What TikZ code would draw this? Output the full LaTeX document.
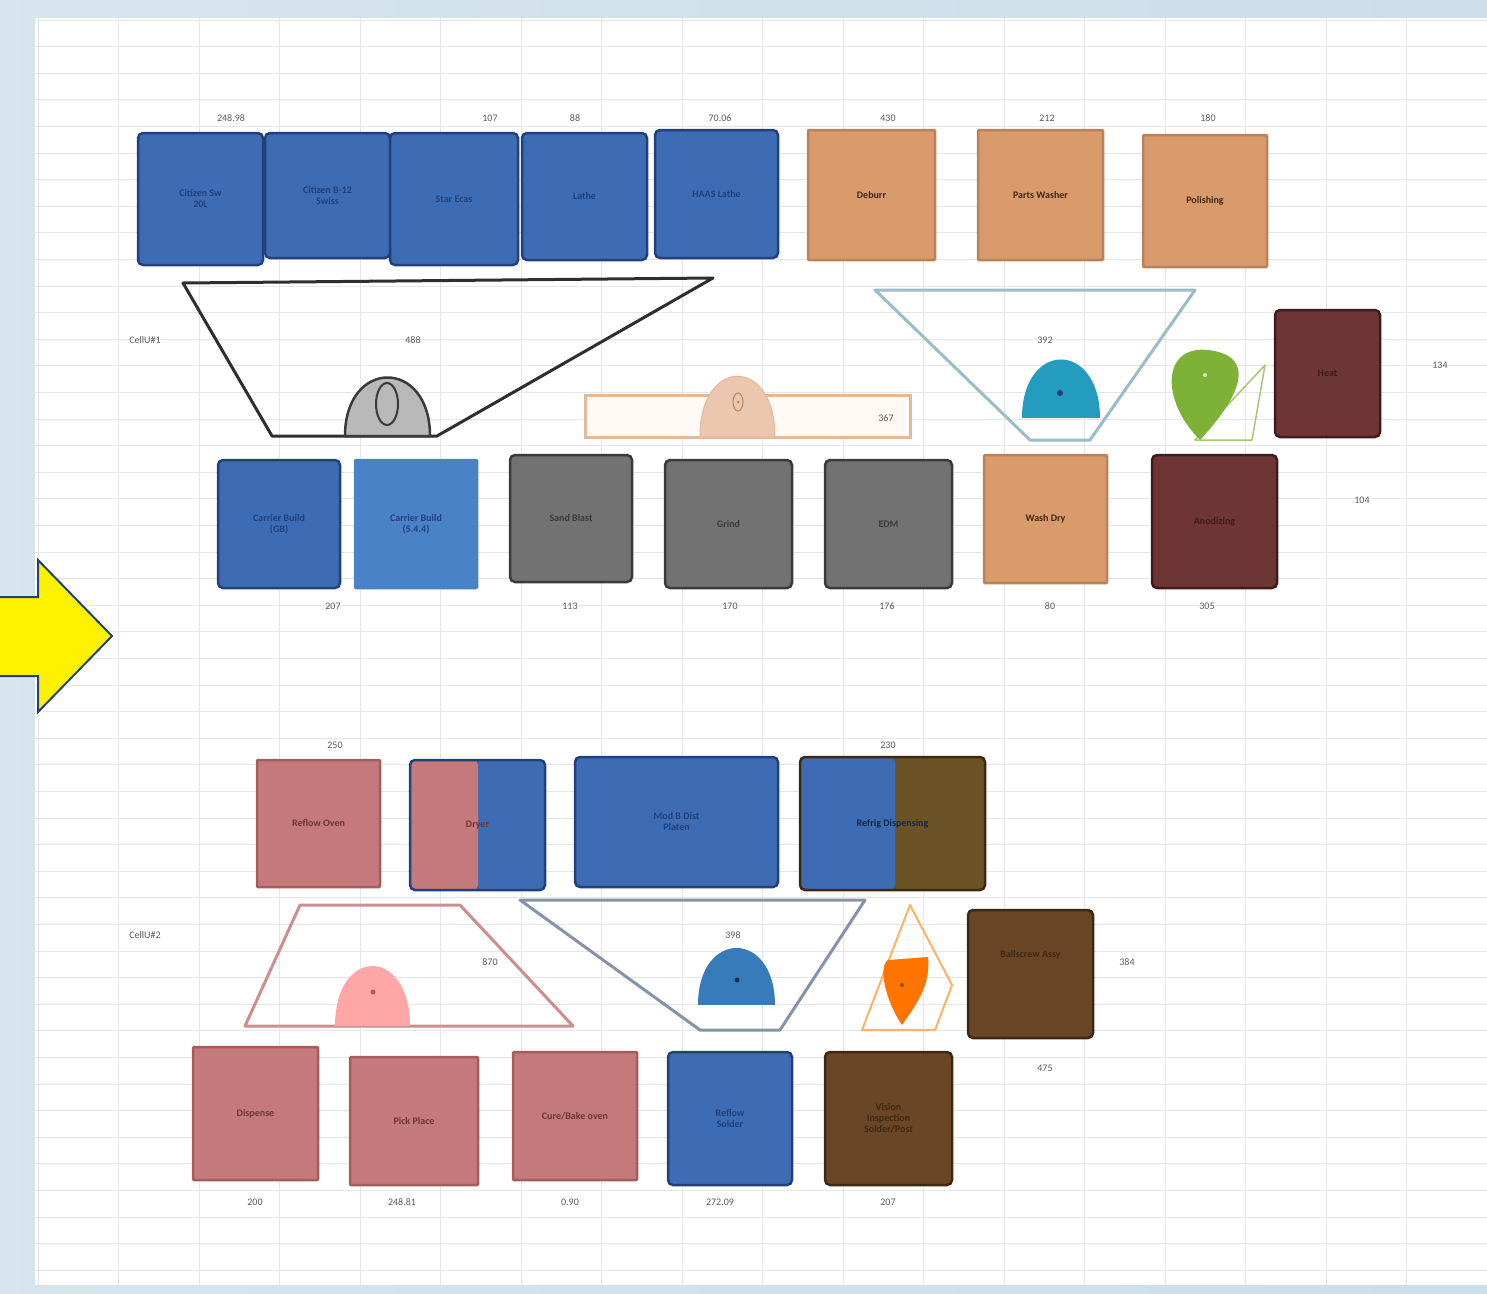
\documentclass[tikz,border=0pt]{standalone}
\usepackage{fontspec}
\setmainfont{Carlito}
\definecolor{bgc}{HTML}{CCDEEA}
\definecolor{gridc}{HTML}{E4E6E8}
\definecolor{blueF}{HTML}{3E6CB4}
\definecolor{blueD}{HTML}{21407C}
\definecolor{blueL}{HTML}{4A82C8}
\definecolor{orangeF}{HTML}{D99A6C}
\definecolor{orangeD}{HTML}{B9835A}
\definecolor{grayF}{HTML}{727272}
\definecolor{grayD}{HTML}{3A3A3A}
\definecolor{maroonF}{HTML}{6E3535}
\definecolor{maroonD}{HTML}{3E1C1C}
\definecolor{pinkF}{HTML}{C47A7A}
\definecolor{pinkD}{HTML}{A55C5C}
\definecolor{brownF}{HTML}{6B4626}
\definecolor{brownD}{HTML}{3E2812}
\definecolor{oliveF}{HTML}{6B5326}
\definecolor{numc}{HTML}{5A5A5A}
\definecolor{tealF}{HTML}{239CBF}
\definecolor{leafF}{HTML}{7DB236}
\begin{document}
\begin{tikzpicture}[x=1pt,y=-1pt,
  bx/.style 2 args={draw=#2,fill=#1,rounded corners=5pt,line width=2.5pt,inner sep=2pt,align=center,
     font=\fontsize{10}{11}\selectfont\bfseries},
  num/.style={font=\fontsize{10}{11}\selectfont,text=numc,inner sep=1pt},
  gridl/.style={draw=gridc,line width=0.8pt}]
\useasboundingbox (0,0) rectangle (1487,1293);
% background
\shade[left color=bgc!80!white,right color=bgc] (0,0) rectangle (1487,1293);
\fill[white] (35,18) rectangle (1487,1285);
\begin{scope}
\clip (35,18) rectangle (1487,1285);
\foreach \i in {0,...,18} \draw[gridl] ({38+80.5*\i},18) -- ({38+80.5*\i},1285);
\foreach \j in {0,...,47} \draw[gridl] (35,{20+26.6*\j}) -- (1487,{20+26.6*\j});
\end{scope}
% yellow arrow
\filldraw[fill=yellow,draw=blueD,line width=2pt,line join=miter]
  (-5,597) -- (38,597) -- (38,560) -- (112,636) -- (38,712) -- (38,676) -- (-5,676) -- cycle;

% ===== Cell 1 =====
% top row
\node[bx={blueF}{blueD},text=blueD,minimum width=125,minimum height=132] (c1) at (200.5,199) {Citizen Sw\\ 20L};
\node[bx={blueF}{blueD},text=blueD,minimum width=125,minimum height=125] (c2) at (327.5,195.5) {Citizen B-12\\ Swiss};
\node[bx={blueF}{blueD},text=blueD,minimum width=128,minimum height=132] (c3) at (454,199) {Star Ecas};
\node[bx={blueF}{blueD},text=blueD,minimum width=125,minimum height=127] (c4) at (584.5,196.5) {Lathe};
\node[bx={blueF}{blueD},text=blueD,minimum width=123,minimum height=128] (c5) at (716.5,194) {HAAS Lathe};
\node[bx={orangeF}{orangeD},text=brownD,rounded corners=1pt,minimum width=127,minimum height=130] (c6) at (871.5,195) {Deburr};
\node[bx={orangeF}{orangeD},text=brownD,rounded corners=1pt,minimum width=125,minimum height=130] (c7) at (1040.5,195) {Parts Washer};
\node[bx={orangeF}{orangeD},text=brownD,rounded corners=1pt,minimum width=124,minimum height=132] (c8) at (1205,201) {Polishing};
\node[num] (n1) at (231,118) {248.98};
\node[num] (n2) at (490,118) {107};
\node[num] (n3) at (575,118) {88};
\node[num] (n4) at (720,118) {70.06};
\node[num] (n5) at (888,118) {430};
\node[num] (n6) at (1047,118) {212};
\node[num] (n7) at (1208,118) {180};

% black trapezoid and grey dome
\draw[line width=3pt,draw=grayD!80!black,line join=round] (183,283) -- (713,278) -- (437,436) -- (272,436) -- cycle;
\filldraw[fill=gray!55,draw=grayD,line width=2.5pt] (345,436) .. controls (345,358) and (430,358) .. (430,436) -- cycle;
\draw[grayD,line width=2pt] (387,404) ellipse [x radius=11pt,y radius=21pt];
\node[num] (cu1) at (145,340) {CellU\#1};
\node[num] (n8) at (413,340) {488};

% orange hollow bar with dome
\filldraw[fill=orange!4,draw=orangeF!70!white,line width=3pt] (585,395) rectangle (910,437);
\filldraw[fill=orangeF!55!white,draw=orangeF!70!white,line width=1pt] (700,437) .. controls (700,356) and (775,356) .. (775,437) -- cycle;
\draw[orangeD,line width=1pt] (738,402) ellipse [x radius=5pt,y radius=9pt];
\fill[orangeD] (738,402) circle (1.5pt);
\node[num] (n9) at (886,418) {367};

% blue-grey trapezoid with teal dome
\draw[line width=3pt,draw=cyan!35!gray!70!white,line join=round] (875,290) -- (1195,290) -- (1090,440) -- (1030,440) -- cycle;
\fill[tealF] (1022,418) .. controls (1022,340) and (1100,340) .. (1100,418) -- cycle;
\fill[blueD] (1060,393) circle (3pt);
\node[num] (n10) at (1045,340) {392};

% green leaf and outline
\draw[leafF!70!white,line width=1.5pt,line join=round] (1195,440) -- (1265,365) -- (1252,440) -- cycle;
\fill[leafF] (1200,440) .. controls (1160,400) and (1162,345) .. (1208,350) .. controls (1252,355) and (1248,388) .. (1200,440) -- cycle;
\fill[white!70!leafF] (1205,375) circle (2pt);

% heat box
\node[bx={maroonF}{maroonD},text=maroonD,minimum width=105,minimum height=127] (heat) at (1327.5,373.5) {Heat};
\node[num] (n11) at (1440,365) {134};

% bottom row cell 1
\node[bx={blueF}{blueD},text=blueD,minimum width=122,minimum height=128] (b1) at (279,524) {Carrier Build\\ (GB)};
\node[bx={blueL}{blueL},text=blueD,minimum width=122,minimum height=128,rounded corners=1pt] (b2) at (416,524) {Carrier Build\\ (5.4.4)};
\node[bx={grayF}{grayD},text=grayD,minimum width=122,minimum height=127] (b3) at (571,518.5) {Sand Blast};
\node[bx={grayF}{grayD},text=grayD,minimum width=127,minimum height=128] (b4) at (728.5,524) {Grind};
\node[bx={grayF}{grayD},text=grayD,minimum width=127,minimum height=128] (b5) at (888.5,524) {EDM};
\node[bx={orangeF}{orangeD},text=brownD,rounded corners=1pt,minimum width=123,minimum height=128] (b6) at (1045.5,519) {Wash Dry};
\node[bx={maroonF}{maroonD},text=maroonD,minimum width=125,minimum height=133] (b7) at (1214.5,521.5) {Anodizing};
\node[num] (m1) at (333,606) {207};
\node[num] (m2) at (570,606) {113};
\node[num] (m3) at (730,606) {170};
\node[num] (m4) at (887,606) {176};
\node[num] (m5) at (1050,606) {80};
\node[num] (m6) at (1207,606) {305};
\node[num] (m7) at (1362,500) {104};

% ===== Cell 2 =====
\node[bx={pinkF}{pinkD},text=maroonF,rounded corners=1pt,minimum width=123,minimum height=127] (d1) at (318.5,823.5) {Reflow Oven};
\node[bx={blueF}{blueD},text=maroonF,minimum width=135,minimum height=130,
  path picture={\fill[pinkF] (path picture bounding box.south west) rectangle ([xshift=68pt]path picture bounding box.north west);}] (d2) at (477.5,825) {Dryer};
\node[bx={blueF}{blueD},text=blueD,minimum width=203,minimum height=130] (d3) at (676.5,822) {Mod B Dist\\ Platen};
\node[bx={oliveF}{brownD},text=blueD!60!black,minimum width=185,minimum height=133,
  path picture={\fill[blueF] (path picture bounding box.south west) rectangle ([xshift=95pt]path picture bounding box.north west);}] (d4) at (892.5,823.5) {Refrig Dispensing};
\node[num] (p1) at (335,745) {250};
\node[num] (p2) at (888,745) {230};

% pink trapezoid with dome
\draw[line width=3pt,draw=pinkF!85!white,line join=round] (300,905) -- (460,905) -- (573,1026) -- (245,1026) -- cycle;
\fill[red!35!white] (335,1026) .. controls (335,946) and (410,946) .. (410,1026) -- cycle;
\fill[pinkD] (373,992) circle (2.5pt);
\node[num] (cu2) at (145,935) {CellU\#2};
\node[num] (p3) at (490,962) {870};

% blue-grey trapezoid with blue dome
\draw[line width=3pt,draw=blueF!40!gray!80!white,line join=round] (520,900) -- (865,900) -- (780,1030) -- (700,1030) -- cycle;
\fill[blueF!90!cyan] (698,1005) .. controls (698,929) and (775,929) .. (775,1005) -- cycle;
\fill[blueD!70!black] (737,980) circle (2.5pt);
\node[num] (p4) at (733,935) {398};

% orange kite with droplet
\draw[line width=2pt,draw=orange!60!white,line join=round] (910,905) -- (952,985) -- (935,1030) -- (862,1030) -- cycle;
\fill[orange!90!red] (902,1025) .. controls (885,1000) and (878,966) .. (888,960) -- (928,957) .. controls (931,985) and (916,1005) .. (902,1025) -- cycle;
\fill[orange!60!black] (902,985) circle (2pt);

% ballscrew box
\node[bx={brownF}{brownD},text=brownD,minimum width=125,minimum height=128,text depth=40pt] (bs) at (1030.5,974) {Ballscrew Assy};
\node[num] (p5) at (1127,962) {384};
\node[num] (p6) at (1045,1068) {475};

% bottom row cell 2
\node[bx={pinkF}{pinkD},text=maroonF,rounded corners=1pt,minimum width=125,minimum height=133] (e1) at (255.5,1113.5) {Dispense};
\node[bx={pinkF}{pinkD},text=maroonF,rounded corners=1pt,minimum width=128,minimum height=128] (e2) at (414,1121) {Pick Place};
\node[bx={pinkF}{pinkD},text=maroonF,rounded corners=1pt,minimum width=124,minimum height=128] (e3) at (575,1116) {Cure/Bake oven};
\node[bx={blueF}{blueD},text=blueD,minimum width=124,minimum height=133] (e4) at (730,1118.5) {Reflow\\ Solder};
\node[bx={brownF}{brownD},text=brownD,minimum width=127,minimum height=133] (e5) at (888.5,1118.5) {Vision\\ Inspection\\ Solder/Post};
\node[num] (q1) at (255,1202) {200};
\node[num] (q2) at (402,1202) {248.81};
\node[num] (q3) at (570,1202) {0.90};
\node[num] (q4) at (720,1202) {272.09};
\node[num] (q5) at (888,1202) {207};
\end{tikzpicture}
\end{document}
